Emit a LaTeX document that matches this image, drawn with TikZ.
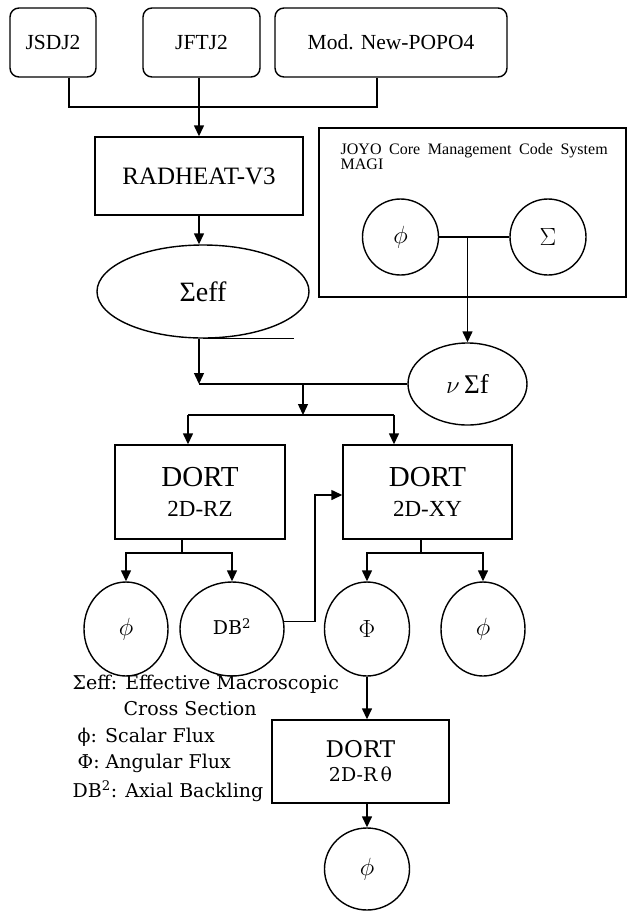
\documentclass[tikz,border=0pt]{standalone}
\usepackage{fontspec}
\newfontfamily\tms{Liberation Serif}
\newfontfamily\dvs{DejaVu Serif}
\usetikzlibrary{arrows.meta,shapes.geometric}
\begin{document}
\begin{tikzpicture}[x=1pt,y=-1pt, line width=1.4pt,
  arr/.style={-{Triangle[length=11pt,width=10pt]}},
  rbox/.style={draw, rounded corners=9pt, inner sep=0pt, font=\tms\fontsize{21.5}{26}\selectfont},
  sbox/.style={draw, inner sep=0pt, align=center},
  ell/.style={draw, ellipse, inner sep=0pt},
  lg/.style={anchor=base west, inner sep=0pt, font=\dvs\fontsize{19}{23}\selectfont}]
\useasboundingbox (0,0) rectangle (627,911);
% top boxes
\node[rbox, minimum width=86pt, minimum height=69pt] (jsdj) at (53,42.5) {JSDJ2};
\node[rbox, minimum width=117pt, minimum height=69pt] (jftj) at (201.5,42.5) {JFTJ2};
\node[rbox, minimum width=232pt, minimum height=69pt] (popo) at (391,42.5) {Mod. New-POPO4};
\coordinate (t1) at (69,107);
\coordinate (t2) at (377,107);
\draw (jsdj.south -| t1) -- (t1) -- (t2) -- (popo.south -| t2);
% RADHEAT
\node[sbox, minimum width=208pt, minimum height=78pt, font=\tms\fontsize{25}{29}\selectfont] (rad) at (199,176) {RADHEAT-V3};
\draw[arr] (jftj.south -| rad.north) -- (rad.north);
% Sigma eff
\node[ell, minimum width=212pt, minimum height=93pt, font=\tms\fontsize{28}{32}\selectfont] (seff) at (203,291.5) {Σeff};
\draw[arr] (rad.south) -- (rad.south |- seff.north);
\draw (seff.south) -- ++(91,0);
% MAGI
\node[draw, minimum width=307pt, minimum height=169pt, inner sep=0pt] (magi) at (472.5,212.5) {};
\node[anchor=base west, inner sep=0pt, font=\tms\fontsize{16}{18}\selectfont] (mt1) at (340,154) {\makebox[267pt][s]{JOYO Core Management Code System}};
\node[anchor=base west, inner sep=0pt, font=\tms\fontsize{16}{18}\selectfont] (mt2) at (340,169) {MAGI};
\node[draw, circle, minimum size=76pt, inner sep=0pt, font=\fontsize{23}{27}\selectfont] (mphi) at (400.5,237) {$\phi$};
\node[draw, circle, minimum size=76pt, inner sep=0pt, font=\fontsize{23}{27}\selectfont] (msig) at (548,237) {$\Sigma$};
\draw (mphi.east) -- (msig.west);
% nu Sigma f
\node[ell, minimum width=119pt, minimum height=82pt, font=\tms\fontsize{27}{31}\selectfont] (nusf) at (467.5,384) {$\nu$\,Σf};
\draw[arr] (nusf.north |- mphi.east) -- (nusf.north);
\coordinate (m1) at (199,384);
\draw[arr] (seff.south -| rad.south) -- (m1);
\draw (m1) -- (nusf.west);
\coordinate (m2) at (303,384);
\coordinate (b0) at (303,415);
\draw[arr] (m2) -- (b0);
% DORT boxes
\node[sbox, minimum width=170pt, minimum height=94pt, font=\tms\fontsize{29}{33}\selectfont] (rz) at (200,492) {DORT\\[-3pt]{\fontsize{23}{27}\selectfont 2D-RZ}};
\node[sbox, minimum width=169pt, minimum height=94pt, font=\tms\fontsize{29}{33}\selectfont] (xy) at (427.5,492) {DORT\\[-3pt]{\fontsize{23}{27}\selectfont 2D-XY}};
\coordinate (bl) at (188,415);
\coordinate (br) at (394,415);
\draw (bl) -- (br);
\draw[arr] (bl) -- (bl |- rz.north);
\draw[arr] (br) -- (br |- xy.north);
% circles row
\node[ell, minimum width=84pt, minimum height=94pt, font=\fontsize{25}{29}\selectfont] (c1) at (126,629) {$\phi$};
\node[ell, minimum width=104pt, minimum height=94pt, font=\dvs\fontsize{19}{23}\selectfont] (c2) at (232,629) {\raisebox{5pt}{DB\textsuperscript{2}}};
\node[ell, minimum width=85pt, minimum height=94pt, font=\fontsize{25}{29}\selectfont] (c3) at (367,629) {$\Phi$};
\node[ell, minimum width=84pt, minimum height=94pt, font=\fontsize{25}{29}\selectfont] (c4) at (483,629) {$\phi$};
\coordinate (rzd) at (182,553);
\coordinate (xyd) at (421,553);
\draw (rz.south -| rzd) -- (rzd);
\draw[arr] (rzd) -| (c1);
\draw[arr] (rzd) -| (c2);
\draw (xy.south -| xyd) -- (xyd);
\draw[arr] (xyd) -| (c3);
\draw[arr] (xyd) -| (c4);
\coordinate (fb) at (315,495);
\draw[arr] (c2.8) -| (fb) -- (fb -| xy.west);
% DORT R-theta
\node[sbox, minimum width=177pt, minimum height=83pt, font=\dvs\fontsize{23}{27}\selectfont] (rt) at (360.5,761.5) {DORT\\[-3pt]{\fontsize{19}{23}\selectfont 2D-R\,θ}};
\draw[arr] (c3.south) -- (c3.south |- rt.north);
\node[ell, minimum width=85pt, minimum height=82pt, font=\fontsize{25}{29}\selectfont] (c5) at (367,869) {$\phi$};
\draw[arr] (rt.south -| c5.north) -- (c5.north);
% legend
\node[lg] (l1) at (72,689) {Σeff: Effective Macroscopic};
\node[lg] (l2) at (123,715) {Cross Section};
\node[lg] (l3) at (77,742) {ϕ: Scalar Flux};
\node[lg] (l4) at (77,768) {Φ: Angular Flux};
\node[lg] (l5) at (72,797) {DB\textsuperscript{2}: Axial Backling};
\end{tikzpicture}
\end{document}
